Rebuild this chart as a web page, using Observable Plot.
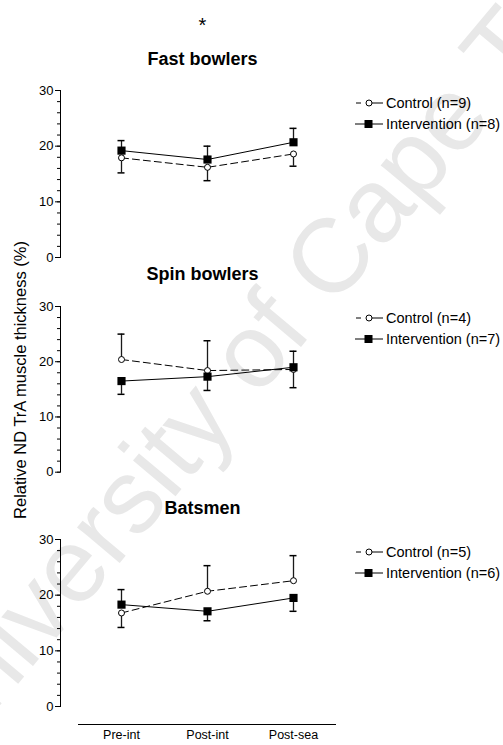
<!DOCTYPE html>
<html><head><meta charset="utf-8">
<script src="https://cdn.jsdelivr.net/npm/d3@7"></script>
<script src="https://cdn.jsdelivr.net/npm/@observablehq/plot@0.6"></script>
<style>
body{margin:0;background:#fff;}
#root{position:relative;width:503px;height:745px;overflow:hidden;font-family:"Liberation Sans",Arial,sans-serif;color:#000;}
.abs{position:absolute;}
.title{position:absolute;left:0;width:405px;text-align:center;font-weight:bold;font-size:18px;line-height:20px;white-space:nowrap;}
#star{position:absolute;left:0;width:405px;text-align:center;font-size:20px;line-height:20px;top:15px;}
#ylab{position:absolute;left:20px;top:380px;transform:translate(-50%,-50%) rotate(-90deg);font-size:16.5px;white-space:nowrap;}
#wm{position:absolute;left:278px;top:318px;transform:translate(-50%,-50%) rotate(-50deg);font-size:105px;color:#e8e8e8;white-space:nowrap;}
</style></head>
<body><div id="root">
<div id="wm">University of Cape Town</div>
<div id="star">*</div>
<div id="ylab">Relative ND TrA muscle thickness (%)</div>
</div>
<script>
const phases = ["Pre-int", "Post-int", "Post-sea"];
const groups = ["Control", "Intervention"];
const panels = ["Fast bowlers", "Spin bowlers", "Batsmen"];
// means and SDs per panel, per phase
const fastControlMean = [17.9, 16.2, 18.6];
const fastControlSD = [2.7, 2.4, 2.2];
const fastInterventionMean = [19.2, 17.6, 20.7];
const fastInterventionSD = [1.8, 2.4, 2.5];
const spinControlMean = [20.4, 18.4, 18.6];
const spinControlSD = [4.6, 5.4, 3.3];
const spinInterventionMean = [16.5, 17.3, 19.0];
const spinInterventionSD = [2.4, 2.5, 2.9];
const batControlMean = [16.8, 20.7, 22.6];
const batControlSD = [2.6, 4.6, 4.5];
const batInterventionMean = [18.3, 17.1, 19.5];
const batInterventionSD = [2.7, 1.7, 2.4];
const controlN = [9, 4, 5];
const interventionN = [8, 7, 6];

const series = [
  [fastControlMean, fastControlSD, fastInterventionMean, fastInterventionSD],
  [spinControlMean, spinControlSD, spinInterventionMean, spinInterventionSD],
  [batControlMean, batControlSD, batInterventionMean, batInterventionSD]
];

const rows = [];
panels.forEach((p, pi) => {
  const [cm, cs, im, is] = series[pi];
  phases.forEach((ph, i) => {
    // one-sided error bar drawn away from the other group
    const cUp = cm[i] >= im[i];
    rows.push({panel: p, group: "Control", phase: ph, mean: cm[i], sd: cs[i], end: cm[i] + (cUp ? 1 : -1) * cs[i]});
    rows.push({panel: p, group: "Intervention", phase: ph, mean: im[i], sd: is[i], end: im[i] + (cUp ? -1 : 1) * is[i]});
  });
});

const layout = [
  {top: 80, height: 190, mt: 10, mb: 13, titleTop: 48.5, legTop: 103},
  {top: 295, height: 190, mt: 11, mb: 13.3, titleTop: 264, legTop: 318},
  {top: 528, height: 217, mt: 11, mb: 39, titleTop: 498, legTop: 552}
];

const root = document.getElementById("root");

panels.forEach((p, pi) => {
  const L = layout[pi];
  const data = rows.filter(d => d.panel === p);
  const ctrl = data.filter(d => d.group === "Control");
  const intv = data.filter(d => d.group === "Intervention");
  const last = pi === panels.length - 1;
  const chart = Plot.plot({
    width: 503, height: L.height,
    marginLeft: 60, marginRight: 0, marginTop: L.mt, marginBottom: L.mb,
    style: {fontFamily: "'Liberation Sans', Arial, sans-serif", fontSize: "13px", color: "#000", background: "transparent", overflow: "visible"},
    x: {type: "point", domain: phases, range: [78, 336], padding: 0.5, axis: last ? undefined : null},
    y: {domain: [0, 30]},
    marks: [
      Plot.frame({anchor: "left", stroke: "#000"}),
      Plot.axisY({ticks: d3.range(0, 31, 2), tickSize: 3, tickFormat: () => "", label: null}),
      Plot.axisY({ticks: [0, 10, 20, 30], tickSize: 5, tickPadding: 2, label: null, fontSize: 13}),
      last ? Plot.axisX({tickSize: 0, tickPadding: 24, label: null, fontSize: 12.5}) : null,
      last ? Plot.ruleY([0], {x1: () => phases[0], x2: () => phases[phases.length - 1], dy: 18, insetLeft: -43, insetRight: -43, stroke: "#000"}) : null,
      Plot.ruleX(data, {x: "phase", y1: "mean", y2: "end", stroke: "#1a1a1a", strokeWidth: 1.3}),
      Plot.ruleY(data, {x1: "phase", x2: "phase", y: "end", insetLeft: -3.5, insetRight: -3.5, stroke: "#000", strokeWidth: 1.5}),
      Plot.line(ctrl, {x: "phase", y: "mean", stroke: "#000", strokeWidth: 1, strokeDasharray: "7,4"}),
      Plot.line(intv, {x: "phase", y: "mean", stroke: "#000", strokeWidth: 1}),
      Plot.dot(ctrl, {x: "phase", y: "mean", r: 3, fill: "white", stroke: "#000", strokeWidth: 1}),
      Plot.dot(intv, {x: "phase", y: "mean", symbol: "square", r: 4.6, fill: "#000", stroke: "none"})
    ]
  });
  const wrap = document.createElement("div");
  wrap.className = "abs";
  wrap.style.left = "0px";
  wrap.style.top = L.top + "px";
  wrap.appendChild(chart);
  root.appendChild(wrap);

  const t = document.createElement("div");
  t.className = "title";
  t.style.top = L.titleTop + "px";
  t.textContent = p;
  root.appendChild(t);

  // legend
  const leg = d3.create("svg").attr("width", 160).attr("height", 40)
    .style("position", "absolute").style("left", "350px").style("top", (L.legTop - 10) + "px")
    .style("font-family", "'Liberation Sans', Arial, sans-serif").style("font-size", "14.5px");
  const y1 = 10, y2 = 31;
  leg.append("line").attr("x1", 6).attr("x2", 11).attr("y1", y1).attr("y2", y1).attr("stroke", "#000");
  leg.append("line").attr("x1", 22).attr("x2", 33).attr("y1", y1).attr("y2", y1).attr("stroke", "#000");
  leg.append("circle").attr("cx", 19).attr("cy", y1).attr("r", 3).attr("fill", "white").attr("stroke", "#000");
  leg.append("text").attr("x", 36).attr("y", y1).attr("dy", "0.35em").text(`${groups[0]} (n=${controlN[pi]})`);
  leg.append("line").attr("x1", 5).attr("x2", 33).attr("y1", y2).attr("y2", y2).attr("stroke", "#000");
  leg.append("rect").attr("x", 14.5).attr("y", y2 - 4).attr("width", 8).attr("height", 8).attr("fill", "#000");
  leg.append("text").attr("x", 36).attr("y", y2).attr("dy", "0.35em").text(`${groups[1]} (n=${interventionN[pi]})`);
  root.appendChild(leg.node());
});
</script>
</body></html>
